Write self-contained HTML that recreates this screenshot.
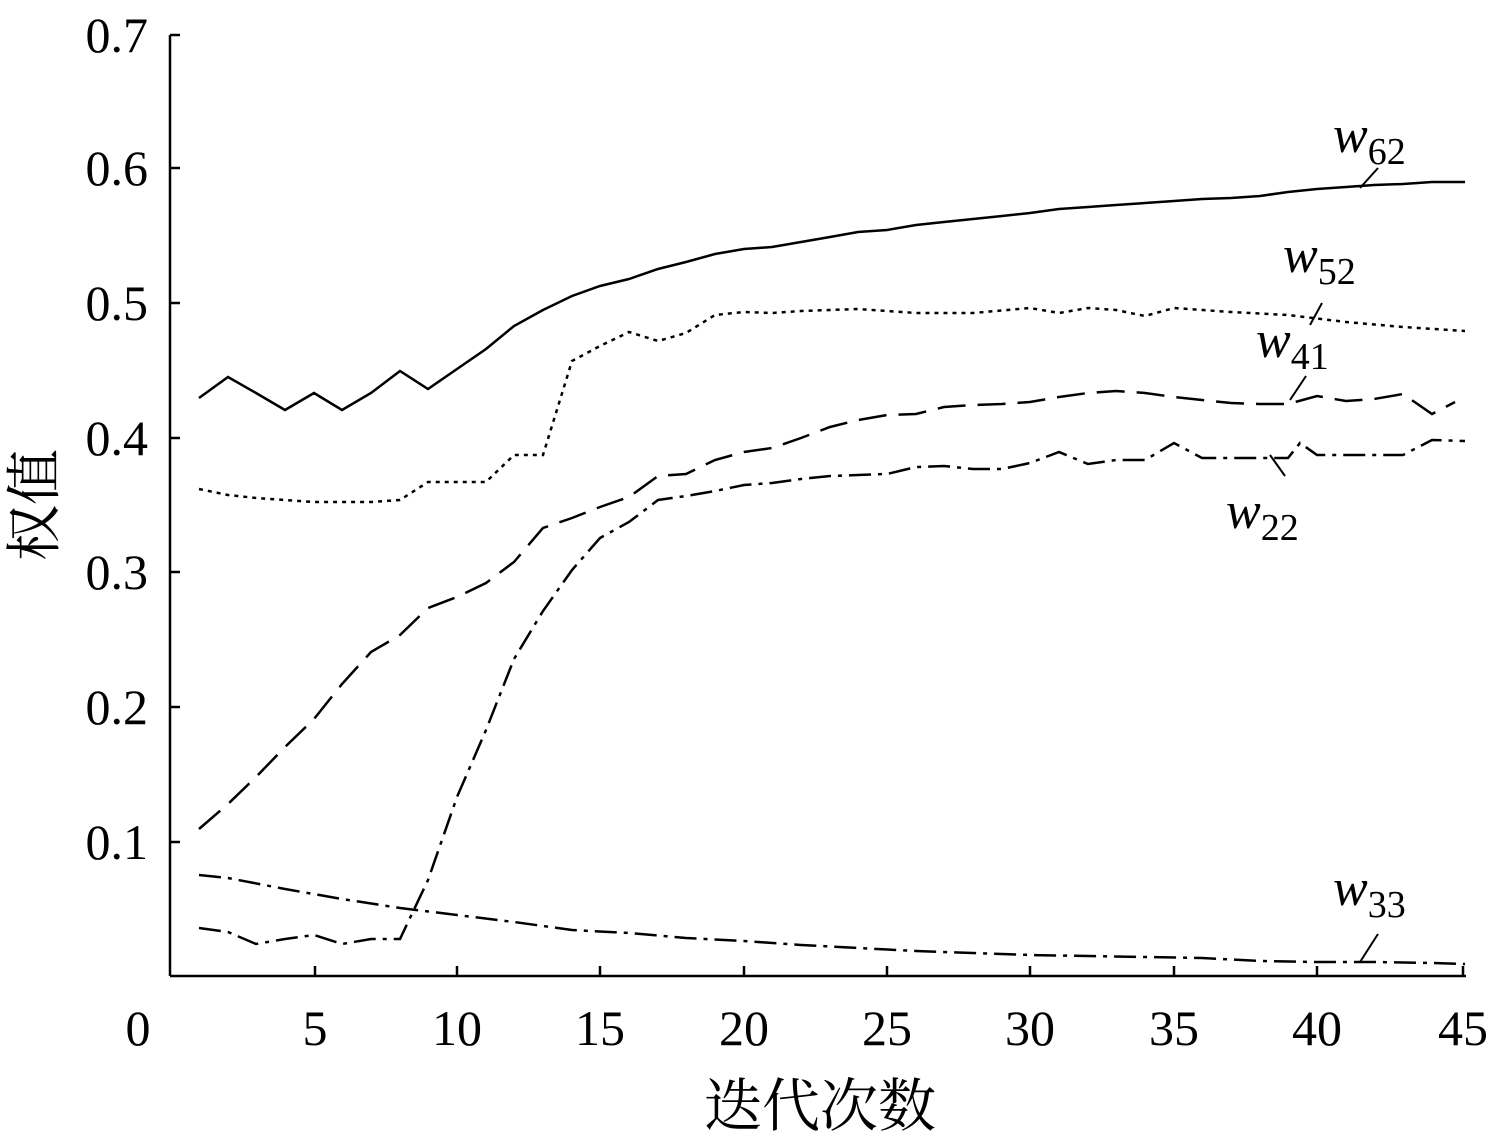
<!DOCTYPE html>
<html><head><meta charset="utf-8"><style>
html,body{margin:0;padding:0;background:#fff;}
svg{display:block;}
text{font-family:"Liberation Serif","Noto Serif CJK SC",serif;fill:#000;}
</style></head><body>
<svg width="1500" height="1136" viewBox="0 0 1500 1136" xmlns="http://www.w3.org/2000/svg">
<g stroke="#000" stroke-width="2.5" fill="none">
<line x1="170" y1="35" x2="170" y2="976"/>
<line x1="170" y1="976" x2="1466" y2="976"/>
<line x1="170" y1="35" x2="180" y2="35"/>
<line x1="170" y1="168" x2="180" y2="168"/>
<line x1="170" y1="303" x2="180" y2="303"/>
<line x1="170" y1="438" x2="180" y2="438"/>
<line x1="170" y1="572" x2="180" y2="572"/>
<line x1="170" y1="707" x2="180" y2="707"/>
<line x1="170" y1="842" x2="180" y2="842"/>
<line x1="315" y1="976" x2="315" y2="966"/>
<line x1="457" y1="976" x2="457" y2="966"/>
<line x1="600" y1="976" x2="600" y2="966"/>
<line x1="744" y1="976" x2="744" y2="966"/>
<line x1="887" y1="976" x2="887" y2="966"/>
<line x1="1030" y1="976" x2="1030" y2="966"/>
<line x1="1174" y1="976" x2="1174" y2="966"/>
<line x1="1317" y1="976" x2="1317" y2="966"/>
<line x1="1463" y1="976" x2="1463" y2="966"/>
</g>
<g font-size="50" text-anchor="end">
<text x="148" y="52">0.7</text><text x="148" y="185">0.6</text><text x="148" y="320">0.5</text>
<text x="148" y="455">0.4</text><text x="148" y="589">0.3</text><text x="148" y="724">0.2</text>
<text x="148" y="859">0.1</text>
</g>
<g font-size="50" text-anchor="middle">
<text x="138" y="1045">0</text><text x="315" y="1045">5</text><text x="457" y="1045">10</text>
<text x="600" y="1045">15</text><text x="744" y="1045">20</text><text x="887" y="1045">25</text>
<text x="1030" y="1045">30</text><text x="1174" y="1045">35</text><text x="1317" y="1045">40</text>
<text x="1463" y="1045">45</text>
<text x="820" y="1126" font-size="58">迭代次数</text>
</g>
<text font-size="56" transform="translate(54,505) rotate(-90)" text-anchor="middle">权值</text>
<g fill="none" stroke="#000" stroke-width="2.5">
<polyline points="199,398 228,377 256,393 285,410 314,393 342,410 371,393 400,371 428,389 457,369 486,349 514,326 543,310 572,296 600,286 629,279 658,269 686,262 715,254 744,249 772,247 801,242 830,237 858,232 887,230 916,225 944,222 973,219 1002,216 1030,213 1059,209 1088,207 1116,205 1145,203 1174,201 1202,199 1231,198 1260,196 1288,192 1317,189 1346,187 1374,185 1403,184 1432,182 1465,182"/>
<polyline stroke-dasharray="4,5" points="199,489 228,495 256,498 285,500 314,502 342,502 371,502 400,500 428,482 457,482 486,482 514,455 543,455 572,361 600,346 629,332 658,341 686,333 715,315 744,312 772,313 801,311 858,309 916,313 973,313 1030,308 1059,313 1088,308 1116,310 1145,316 1174,308 1231,312 1288,315 1346,322 1403,327 1465,331"/>
<polyline stroke-dasharray="28,12" points="199,829 228,804 256,777 285,747 314,719 342,684 371,652 400,635 428,608 457,597 486,583 514,562 543,528 572,518 600,507 629,497 658,476 686,474 715,460 744,452 772,448 801,438 830,427 858,420 887,415 916,414 944,407 973,405 1002,404 1030,402 1059,397 1088,393 1116,391 1145,393 1174,397 1202,400 1231,403 1260,404 1288,404 1317,396 1346,401 1374,399 1403,394 1432,414 1455,402"/>
<polyline stroke-dasharray="22,7,4,7" points="199,928 228,932 256,944 285,939 314,935 342,944 371,939 400,939 428,880 457,797 486,730 514,659 543,611 572,570 600,538 629,522 658,500 686,496 715,491 744,485 772,483 801,479 830,476 858,475 887,474 916,467 944,466 973,469 1002,469 1030,463 1059,452 1088,464 1116,460 1145,460 1174,443 1202,458 1231,458 1260,458 1288,458 1300,443 1317,455 1346,455 1374,455 1403,455 1432,440 1465,441"/>
<polyline stroke-dasharray="22,7,4,7" points="199,875 228,878 285,889 342,899 400,908 457,915 514,922 572,930 629,933 686,938 744,941 801,945 858,948 916,951 973,953 1030,955 1088,956 1145,957 1202,958 1260,961 1317,962 1374,962 1432,963 1465,964"/>
<g stroke-width="2">
<line x1="1360" y1="188" x2="1378" y2="168"/>
<line x1="1310" y1="325" x2="1322" y2="303"/>
<line x1="1290" y1="400" x2="1306" y2="376"/>
<line x1="1285" y1="476" x2="1270" y2="455"/>
<line x1="1360" y1="962" x2="1378" y2="934"/>
</g>
</g>
<g font-size="52" font-style="italic">
<text x="1333" y="152">w<tspan font-size="38" font-style="normal" dy="12">62</tspan></text>
<text x="1283" y="272">w<tspan font-size="38" font-style="normal" dy="12">52</tspan></text>
<text x="1256" y="357">w<tspan font-size="38" font-style="normal" dy="12">41</tspan></text>
<text x="1226" y="528">w<tspan font-size="38" font-style="normal" dy="12">22</tspan></text>
<text x="1333" y="905">w<tspan font-size="38" font-style="normal" dy="12">33</tspan></text>
</g>
</svg>
</body></html>
